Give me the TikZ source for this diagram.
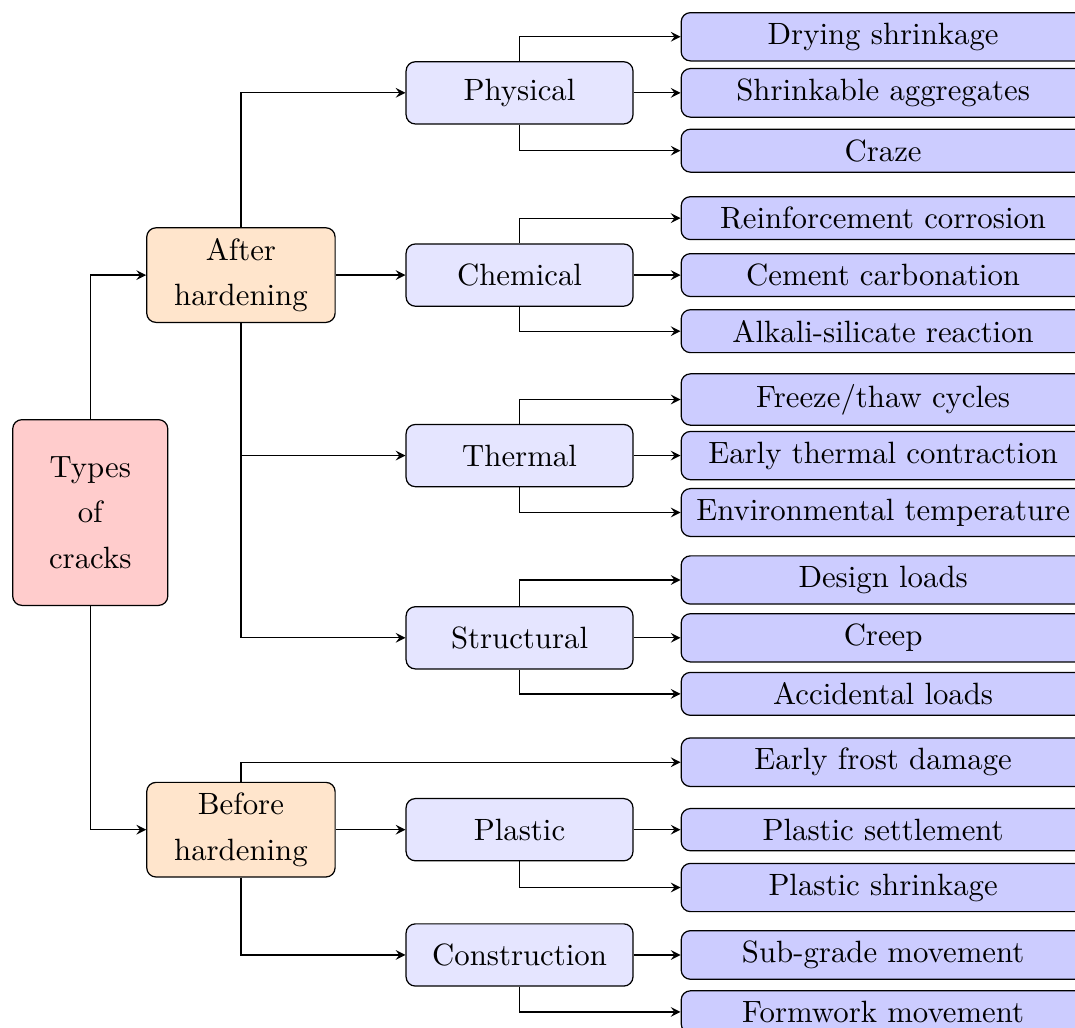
\documentclass[tikz,border=0pt]{standalone}
\usepackage{tikz}
\usetikzlibrary{arrows}

\begin{document}
\begin{tikzpicture}[root/.style={rectangle, rounded corners=3pt, draw, fill=red!20,
                                 align=center, minimum width=1.77cm, minimum height=2.12cm},
                    stage/.style={rectangle, rounded corners=3pt, draw, fill=orange!20,
                                  align=center, minimum width=2.15cm, minimum height=1.08cm},
                    cause/.style={rectangle, rounded corners=3pt, draw, fill=blue!10,
                                  minimum width=2.59cm, minimum height=0.71cm},
                    crack/.style={rectangle, rounded corners=3pt, draw, fill=blue!20,
                                  minimum width=4.61cm},
                    font=\fontsize{10pt}{14.8pt}\selectfont, >=stealth]
  \useasboundingbox (0, 0) rectangle (12.27, -11.73);

  % Root and stages.
  \node at (1.03, -5.85) [root, name=TypesOfCracks] {Types\\of\\cracks};
  \node at (2.75, -3.14) [stage, name=AfterHardening] {After\\hardening};
  \node at (2.75, -9.47) [stage, name=BeforeHardening] {Before\\hardening};

  % Causes.
  \node at (5.93, -1.06) [cause, name=Physical] {Physical};
  \node at (5.93, -3.14) [cause, name=Chemical] {Chemical};
  \node at (5.93, -5.20) [cause, name=Thermal] {Thermal};
  \node at (5.93, -7.28) [cause, name=Structural] {Structural};
  \node at (5.93, -9.47) [cause, name=Plastic] {Plastic};
  \node at (5.93, -10.90) [cause, name=Construction] {Construction};

  % Cracks.
  \node at (10.08, -0.42) [crack, name=DryingShrinkage] {Drying shrinkage};
  \node at (10.08, -1.06) [crack, name=ShrinkableAggregates] {Shrinkable aggregates};
  \node at (10.08, -1.72) [crack, name=Craze] {Craze};
  \node at (10.08, -2.49) [crack, name=ReinforcementCorrosion] {Reinforcement corrosion};
  \node at (10.08, -3.14) [crack, name=CementCarbonation] {Cement carbonation};
  \node at (10.08, -3.78) [crack, name=AlkaliSilicate] {Alkali-silicate reaction};
  \node at (10.08, -4.56) [crack, name=FreezeThaw] {Freeze/thaw cycles};
  \node at (10.08, -5.20) [crack, name=EarlyThermal] {Early thermal contraction};
  \node at (10.08, -5.85) [crack, name=EnvironmentalTemp] {Environmental temperature};
  \node at (10.08, -6.62) [crack, name=DesignLoads] {Design loads};
  \node at (10.08, -7.28) [crack, name=Creep] {Creep};
  \node at (10.08, -7.92) [crack, name=AccidentalLoads] {Accidental loads};
  \node at (10.08, -8.70) [crack, name=EarlyFrost] {Early frost damage};
  \node at (10.08, -9.47) [crack, name=PlasticSettlement] {Plastic settlement};
  \node at (10.08, -10.13) [crack, name=PlasticShrinkage] {Plastic shrinkage};
  \node at (10.08, -10.90) [crack, name=SubgradeMovement] {Sub-grade movement};
  \node at (10.08, -11.55) [crack, name=FormworkMovement] {Formwork movement};

  % Root to stages.
  \draw [->] (TypesOfCracks.north) |- (AfterHardening.west);
  \draw [->] (TypesOfCracks.south) |- (BeforeHardening.west);

  % After hardening.
  \draw [->] (AfterHardening.north) |- (Physical.west);
  \draw [->] (AfterHardening.east) -- (Chemical.west);
  \draw [->] (AfterHardening.south) |- (Thermal.west);
  \draw [->] (AfterHardening.south) |- (Structural.west);

  % Before hardening.
  \draw [->] (BeforeHardening.north) |- (EarlyFrost.west);
  \draw [->] (BeforeHardening.east) -- (Plastic.west);
  \draw [->] (BeforeHardening.south) |- (Construction.west);

  % Physical.
  \draw [->] (Physical.north) |- (DryingShrinkage.west);
  \draw [->] (Physical.east) -- (ShrinkableAggregates.west);
  \draw [->] (Physical.south) |- (Craze.west);

  % Chemical.
  \draw [->] (Chemical.north) |- (ReinforcementCorrosion.west);
  \draw [->] (Chemical.east) -- (CementCarbonation.west);
  \draw [->] (Chemical.south) |- (AlkaliSilicate.west);

  % Thermal.
  \draw [->] (Thermal.north) |- (FreezeThaw.west);
  \draw [->] (Thermal.east) -- (EarlyThermal.west);
  \draw [->] (Thermal.south) |- (EnvironmentalTemp.west);

  % Structural.
  \draw [->] (Structural.north) |- (DesignLoads.west);
  \draw [->] (Structural.east) -- (Creep.west);
  \draw [->] (Structural.south) |- (AccidentalLoads.west);

  % Plastic and construction.
  \draw [->] (Plastic.east) -- (PlasticSettlement.west);
  \draw [->] (Plastic.south) |- (PlasticShrinkage.west);
  \draw [->] (Construction.east) -- (SubgradeMovement.west);
  \draw [->] (Construction.south) |- (FormworkMovement.west);
\end{tikzpicture}
\end{document}
